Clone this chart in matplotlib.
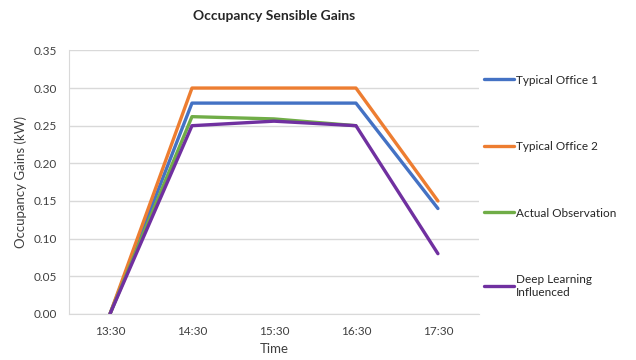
import matplotlib

matplotlib.use("Agg")
import matplotlib.pyplot as plt
import numpy as np

times = ["13:30", "14:30", "15:30", "16:30", "17:30"]
typical_office_1 = [0.0, 0.28, 0.28, 0.28, 0.14]
typical_office_2 = [0.0, 0.30, 0.30, 0.30, 0.15]
actual_observation = [0.0, 0.262, 0.259, 0.25, np.nan]
deep_learning = [0.0, 0.25, 0.256, 0.25, 0.08]

series = [
    ("Typical Office 1", typical_office_1, "#4472C4"),
    ("Typical Office 2", typical_office_2, "#ED7D31"),
    ("Actual Observation", actual_observation, "#70AD47"),
    ("Deep Learning\nInfluenced", deep_learning, "#7030A0"),
]

plt.rcParams["font.family"] = ["Lato", "DejaVu Sans"]

fig = plt.figure(figsize=(6.36, 3.6), dpi=100)
ax = fig.add_axes([0.1085, 0.128, 0.6445, 0.732])

x = np.arange(len(times))
for label, values, color in series:
    ax.plot(x, values, color=color, linewidth=2.4, label=label, solid_capstyle="round")

ax.set_xlim(-0.5, len(times) - 0.5)
ax.set_ylim(0, 0.35)
yticks = np.arange(0, 0.351, 0.05)
ax.set_yticks(yticks)
ax.set_yticklabels([f"{v:.2f}" for v in yticks])
ax.set_xticks(x)
ax.set_xticklabels(times)
ax.grid(axis="y", color="#D9D9D9", linewidth=1.0)
ax.set_axisbelow(True)
for side in ("top", "right"):
    ax.spines[side].set_visible(False)
ax.spines["left"].set_color("#D9D9D9")
ax.spines["bottom"].set_color("#D9D9D9")
ax.tick_params(axis="both", length=0, labelsize=8.5, colors="#404040")
ax.tick_params(axis="x", pad=9)
ax.tick_params(axis="y", pad=8.5)

ax.set_xlabel("Time", fontsize=9.5, color="#404040", labelpad=4)
ax.set_ylabel("Occupancy Gains (kW)", fontsize=9.5, color="#404040", labelpad=5)
ax.set_title("Occupancy Sensible Gains", fontsize=10, fontweight="bold",
             color="#262626", pad=22)

leg = ax.legend(loc="upper left", bbox_to_anchor=(1.0, 0.926), frameon=False,
                fontsize=8.5, handlelength=2.6, handletextpad=0.15,
                labelspacing=4.7, borderaxespad=0)
for text in leg.get_texts():
    text.set_color("#262626")

fig.savefig("out.png", dpi=100)
